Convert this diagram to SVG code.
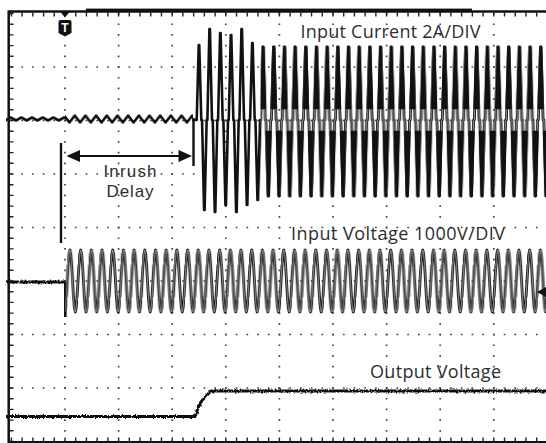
<svg xmlns="http://www.w3.org/2000/svg" width="546" height="443" viewBox="0 0 546 443">
<defs>
<style>
.lbl{font-family:"Open Sans","Liberation Sans",sans-serif;font-size:18px;fill:#2e2e2e}
.lbs{font-family:"Liberation Sans","Open Sans",sans-serif;font-size:17px;fill:#2e2e2e}
.grid{stroke:#444;stroke-width:1.7;fill:none}
.gv{stroke-dasharray:1.7 9}
.gh{stroke-dasharray:1.7 9.02}
.tk{stroke:#222;fill:none}
.tro{fill:none;stroke:#1a1a1a;stroke-width:2.8;stroke-linejoin:round;stroke-linecap:round}
.tri{fill:none;stroke:#a6a6a6;stroke-width:0.8;stroke-linejoin:round}
.tip{fill:#111;stroke:#111;stroke-width:2.6;stroke-linejoin:round}
.solid{fill:none;stroke:#111;stroke-width:2.6;stroke-linejoin:round}
.thick{fill:none;stroke:#111;stroke-width:3;stroke-linejoin:round}
.mk{fill:none;stroke:#111;stroke-width:2.4}
</style>
<filter id="jit" filterUnits="userSpaceOnUse" x="0" y="0" width="546" height="443">
<feTurbulence type="fractalNoise" baseFrequency="0.6 0.4" numOctaves="2" seed="7" result="n"/>
<feDisplacementMap in="SourceGraphic" in2="n" scale="3.5" xChannelSelector="R" yChannelSelector="G"/>
</filter>
<pattern id="cur" patternUnits="userSpaceOnUse" x="196.33" y="0" width="10.68" height="443">
<path class="tro" d="M-2.4 196 L-0.37 120 L0.37 120 L2.4 47 L2.94 47 L4.97 120 L5.71 120 L7.74 196 L8.28 196 L10.31 120 L11.05 120 L13.08 47"/>
<path class="tri" d="M-2.4 196 L-0.37 120 L0.37 120 L2.4 47 L2.94 47 L4.97 120 L5.71 120 L7.74 196 L8.28 196 L10.31 120 L11.05 120 L13.08 47"/>
<path class="tip" d="M0.7 108 L2.4 47 L2.94 47 L4.64 108 Z M6.03 132 L7.74 196 L8.28 196 L9.99 132 Z M-4.65 132 L-2.94 196 L-2.4 196 L-0.69 132 Z M11.38 108 L13.08 47 L13.62 47 L15.32 108 Z"/>
</pattern>
<pattern id="volt" patternUnits="userSpaceOnUse" x="67.33" y="0" width="10.69" height="443">
<path class="tro" d="M-0.89 296.5 L0 281 L0.89 265.5 L1.78 254.2 L2.67 250 L3.56 254.2 L4.45 265.5 L5.35 281 L6.24 296.5 L7.13 307.8 L8.02 312 L8.91 307.8 L9.8 296.5 L10.69 281 L11.58 265.5"/>
<path class="tri" d="M-0.89 296.5 L0 281 L0.89 265.5 L1.78 254.2 L2.67 250 L3.56 254.2 L4.45 265.5 L5.35 281 L6.24 296.5 L7.13 307.8 L8.02 312 L8.91 307.8 L9.8 296.5 L10.69 281 L11.58 265.5"/>
</pattern>
<pattern id="rip1" patternUnits="userSpaceOnUse" x="0" y="0" width="10.68" height="443">
<path class="solid" d="M-5.34 122.5 L0 115.5 L5.34 122.5 L10.68 115.5 L16.02 122.5"/>
</pattern>
<pattern id="rip0" patternUnits="userSpaceOnUse" x="0" y="0" width="10.68" height="443">
<path class="solid" d="M-5.34 120.5 L0 117.5 L5.34 120.5 L10.68 117.5 L16.02 120.5"/>
</pattern>
</defs>
<rect x="0" y="0" width="546" height="443" fill="#fff"/>

<g id="graticule">
<g class="grid gv">
<path d="M65 12.7V442M118.6 12.7V442M172.2 12.7V442M225.8 12.7V442M279.4 12.7V442M333 12.7V442M386.6 12.7V442M440.2 12.7V442M493.8 12.7V442"/>
</g>
<g class="grid gh">
<path d="M10.6 67H546M10.6 120.5H546M10.6 174H546M10.6 227.5H546M10.6 281H546M10.6 334.5H546M10.6 388H546"/>
</g>
<g class="tk">
<path d="M10.7 14.5H546" stroke-width="4" stroke-dasharray="1.4 9.32"/>
<path d="M10.7 439.5H546" stroke-width="4" stroke-dasharray="1.4 9.32"/>
<path d="M11.5 12.8V442" stroke-width="4" stroke-dasharray="1.4 9.3"/>
</g>
<path d="M8.7 11V443M7.5 11.6H546M7.5 442.3H546" stroke="#111" stroke-width="2.5" fill="none"/>
<rect x="86" y="8.6" width="386" height="3" fill="#111"/>
</g>

<g id="trigger">
<polygon points="60.5,12 69.5,12 65,17.5" fill="#111"/>
<path d="M58.5 22 Q58.5 20 60.5 20 H69.5 Q71.5 20 71.5 22 V33 L65 36.5 L58.5 33 Z" fill="#111"/>
<text x="65" y="32" text-anchor="middle" font-family="Liberation Sans, sans-serif" font-size="12" font-weight="bold" fill="#fff">T</text>
</g>

<g id="input-current">
<rect x="6" y="105" width="59" height="25" fill="url(#rip0)"/>
<rect x="65" y="105" width="128" height="25" fill="url(#rip1)"/>
<path class="solid" d="M192 120 L196.70 120 L198.73 45 L199.27 45 L201.30 120 L202.04 120 L204.07 210 L204.61 210 L206.64 120 L207.38 120 L209.41 29 L209.95 29 L211.98 120 L212.72 120 L214.75 212 L215.29 212 L217.32 120 L218.06 120 L220.09 33 L220.63 33 L222.66 120 L223.40 120 L225.43 205 L225.97 205 L228.00 120 L228.74 120 L230.77 35 L231.31 35 L233.34 120 L234.08 120 L236.11 212 L236.65 212 L238.68 120 L239.42 120 L241.45 29 L241.99 29 L244.02 120 L244.76 120 L246.79 205 L247.33 205 L249.36 120 L250.10 120 L252.13 43 L252.67 43 L254.70 120 L255.44 120 L257.47 200 L258.01 200 L260.04 120 L261 120"/>
<rect x="260.41" y="20" width="286" height="195" fill="url(#cur)"/>
</g>

<g id="input-voltage">
<path class="thick" d="M6 282 L65 282" filter="url(#jit)"/>
<path class="solid" d="M65.3 282 L65.3 317"/>
<rect x="65" y="240" width="481" height="82" fill="url(#volt)"/>
<polygon points="537,292 546,287 546,297" fill="#111"/>
</g>

<g id="output-voltage">
<path class="thick" d="M6 416.5 L195 416.5 C197 412 198 406 201 402 S207 395 211 391 L546 391" filter="url(#jit)"/>
</g>

<g id="inrush-delay">
<path class="mk" d="M61 143 V243 M193.5 118 V166"/>
<path d="M76 156 H182" stroke="#111" stroke-width="2" fill="none"/>
<polygon points="66.5,156 80,150 80,162" fill="#111"/>
<polygon points="192,156 178.5,150 178.5,162" fill="#111"/>
</g>

<g id="labels">
<text class="lbl" x="300.5" y="37.5" textLength="180">Input Current 2A/DIV</text>
<text class="lbl" x="291" y="240" textLength="214">Input Voltage 1000V/DIV</text>
<text class="lbl" x="370" y="378" textLength="131">Output Voltage</text>
<text class="lbs" x="103.5" y="176.5" textLength="53">Inrush</text>
<text class="lbs" x="106.5" y="196.5" textLength="47">Delay</text>
</g>
</svg>
